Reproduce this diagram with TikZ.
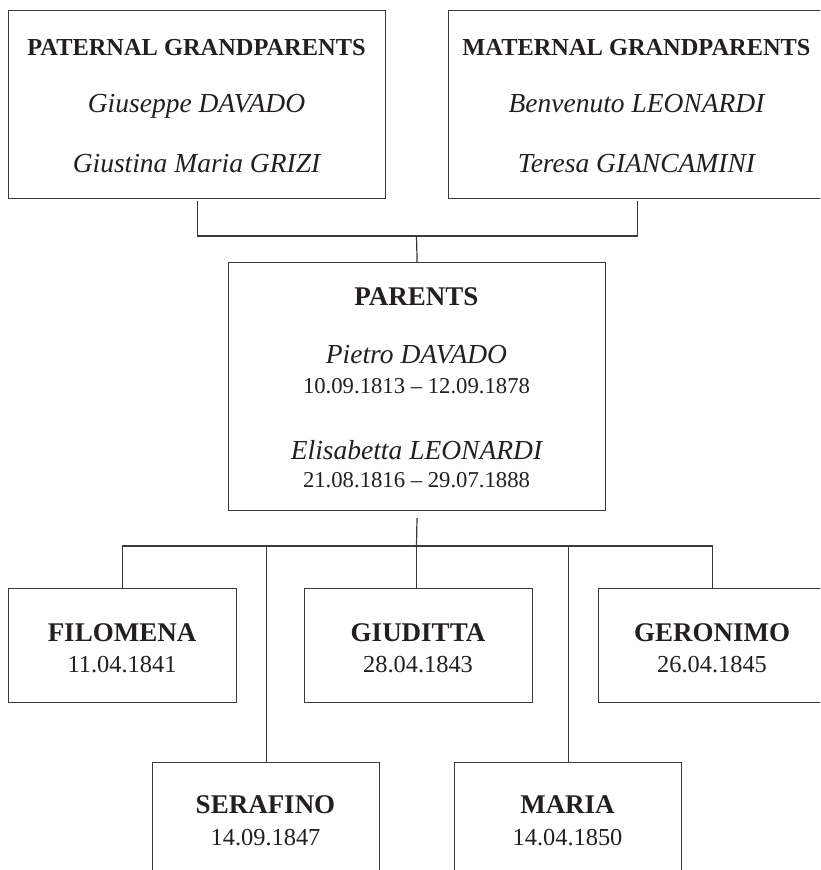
\documentclass[tikz,border=0pt]{standalone}
\usepackage{fontspec}
\setmainfont{Liberation Serif}
\definecolor{ink}{HTML}{231F20}
\definecolor{rulec}{HTML}{3A3A3A}
\begin{document}
\begin{tikzpicture}[x=1pt,y=-1pt,
  box/.style={draw=rulec, line width=1.2pt, inner sep=0pt, anchor=north west},
  gbox/.style={box, minimum width=377pt, minimum height=188pt},
  cbox/.style={box, minimum width=228pt, minimum height=114pt},
  lbox/.style={box, minimum width=227pt, minimum height=140pt},
  txt/.style={anchor=base, inner sep=0pt, text=ink},
  gtitle/.style={txt, font=\fontsize{24.4}{28}\selectfont\bfseries},
  ptitle/.style={txt, font=\fontsize{27}{31}\selectfont\bfseries},
  nm/.style={txt, font=\fontsize{27.5}{32}\selectfont\itshape},
  pdate/.style={txt, font=\fontsize{22.7}{26}\selectfont},
  cname/.style={txt, font=\fontsize{27}{31}\selectfont\bfseries},
  cdate/.style={txt, font=\fontsize{24.4}{28}\selectfont},
  conn/.style={draw=rulec, line width=1.2pt}
]
\clip (0,0) rectangle (820,870);
% grandparents
\node[gbox] (pat) at (8,10) {};
\node[gbox] (mat) at (448,10) {};
\node[gtitle] (patT) at (196.5,55) {PATERNAL GRANDPARENTS};
\node[nm] (patA) at (196.5,112) {Giuseppe DAVADO};
\node[nm] (patB) at (196.5,172) {Giustina Maria GRIZI};
\node[gtitle] (matT) at (636.5,55) {MATERNAL GRANDPARENTS};
\node[nm] (matA) at (636.5,112) {Benvenuto LEONARDI};
\node[nm] (matB) at (636.5,172) {Teresa GIANCAMINI};
% parents
\node[box, minimum width=377pt, minimum height=248pt] (par) at (228,262) {};
\node[ptitle] (parT) at (416.5,305) {PARENTS};
\node[nm] (parA) at (416.5,363) {Pietro DAVADO};
\node[pdate] (parAd) at (416.5,393) {10.09.1813 – 12.09.1878};
\node[nm] (parB) at (416.5,459) {Elisabetta LEONARDI};
\node[pdate] (parBd) at (416.5,487) {21.08.1816 – 29.07.1888};
% children
\node[cbox] (fil) at (8,588) {};
\node[cname] (filN) at (122,641) {FILOMENA};
\node[cdate] (filD) at (122,672) {11.04.1841};
\node[cbox] (giu) at (304,588) {};
\node[cname] (giuN) at (418,641) {GIUDITTA};
\node[cdate] (giuD) at (418,672) {28.04.1843};
\node[cbox] (ger) at (598,588) {};
\node[cname] (gerN) at (712,641) {GERONIMO};
\node[cdate] (gerD) at (712,672) {26.04.1845};
\node[lbox] (ser) at (152,762) {};
\node[cname] (serN) at (265.5,813) {SERAFINO};
\node[cdate] (serD) at (265.5,845) {14.09.1847};
\node[lbox] (mar) at (454,762) {};
\node[cname] (marN) at (567.5,813) {MARIA};
\node[cdate] (marD) at (567.5,845) {14.04.1850};
% connectors
\coordinate (j1) at (416.5,236);
\coordinate (j2) at (416.5,546);
\draw[conn, shorten <=2pt] (pat.south) |- (j1);
\draw[conn, shorten <=2pt] (mat.south) |- (j1);
\draw[conn] (j1) -- (par.north);
\draw[conn, shorten <=7pt] (par.south) -- (j2);
\draw[conn] (fil.north) |- (j2) -| (ger.north);
\draw[conn] (j2) -- (j2 |- giu.north);
\draw[conn] (ser.north) -- (ser.north |- j2);
\draw[conn] (mar.north) -- (mar.north |- j2);
\end{tikzpicture}
\end{document}
